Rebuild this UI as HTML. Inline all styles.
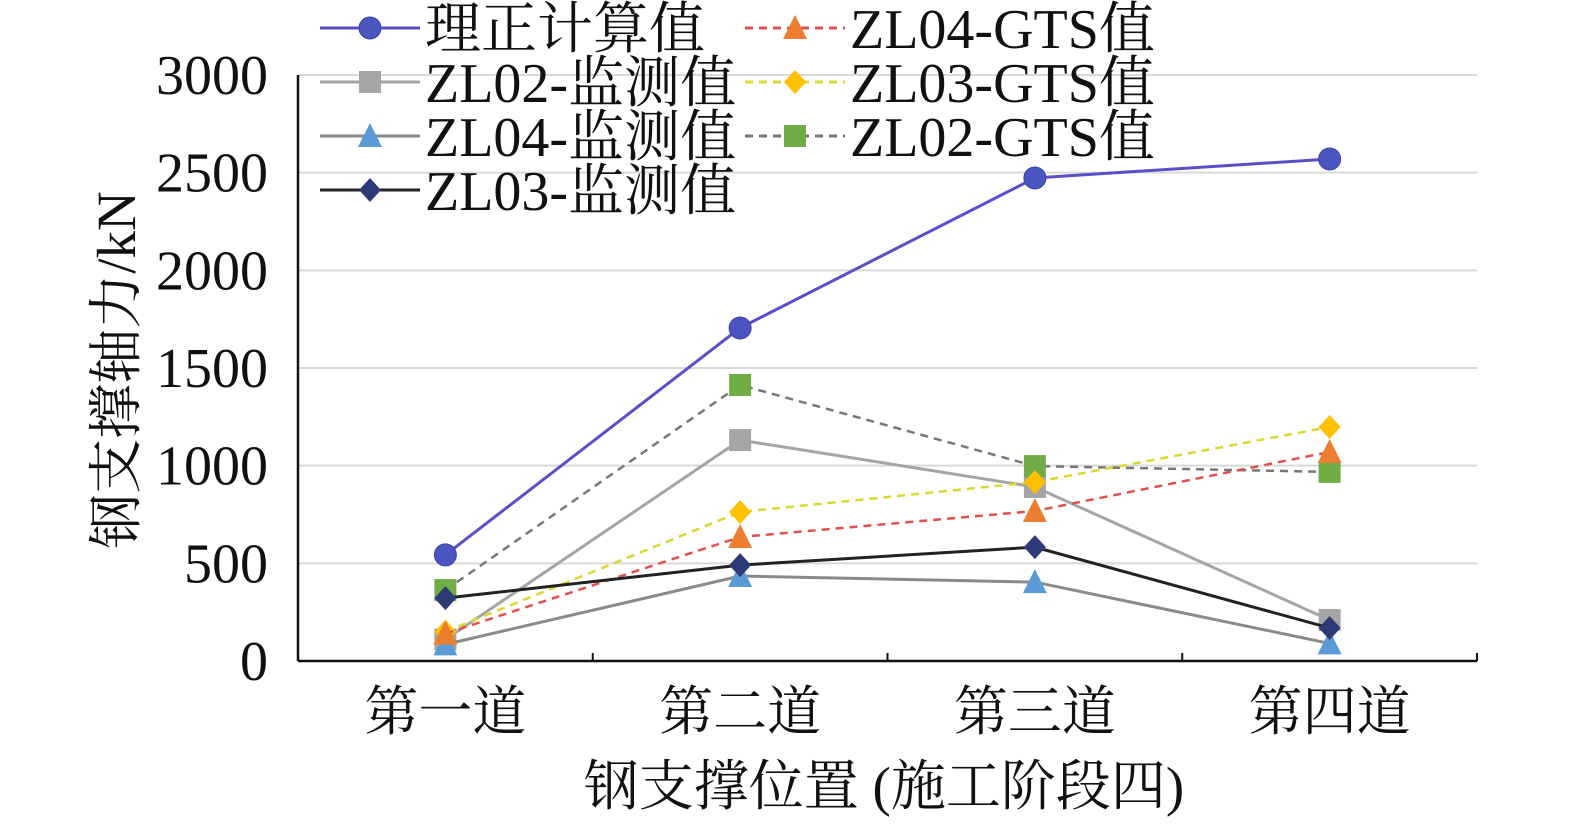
<!DOCTYPE html>
<html><head><meta charset="utf-8"><style>
body{margin:0;background:#fff}
svg text{font-family:"Liberation Serif","Noto Serif CJK SC",serif;fill:#111}
</style></head><body>
<svg id="c" width="1575" height="823"></svg>
<script>
const categories=["第一道","第二道","第三道","第四道"];
const yTicks=[0,500,1000,1500,2000,2500,3000];
const sLizheng=[543,1705,2473,2570];
const sZL02=[110,1131,891,210];
const sZL04=[85,435,404,90];
const sZL03=[322,491,583,169];
const sZL04G=[140,635,768,1070];
const sZL03G=[150,763,916,1198];
const sZL02G=[363,1413,998,968];
const series=[
 {name:"理正计算值",v:sLizheng,c:"#4a55c0",lc:"#5a4fc8",m:"circle",d:false,k:"lizheng"},
 {name:"ZL02-监测值",v:sZL02,c:"#a5a5a5",lc:"#a5a5a5",m:"square",d:false,k:"zl02-monitor"},
 {name:"ZL04-监测值",v:sZL04,c:"#5b9bd5",lc:"#8a8a8a",m:"tri",d:false,k:"zl04-monitor"},
 {name:"ZL03-监测值",v:sZL03,c:"#2e3a78",lc:"#222",m:"diamond",d:false,k:"zl03-monitor"},
 {name:"ZL04-GTS值",v:sZL04G,c:"#ed7d31",lc:"#e05050",m:"tri",d:true,k:"zl04-gts"},
 {name:"ZL03-GTS值",v:sZL03G,c:"#ffc000",lc:"#d8d830",m:"diamond",d:true,k:"zl03-gts"},
 {name:"ZL02-GTS值",v:sZL02G,c:"#70ad47",lc:"#777",m:"square",d:true,k:"zl02-gts"}
];
const NS="http://www.w3.org/2000/svg",svg=document.getElementById('c');
const X0=298,X1=1477,Y0=661,Y1=75;
const x=i=>X0+(X1-X0)/categories.length*(i+0.5);
const y=v=>Y0-(Y0-Y1)*v/3000;
function mk(t,a,p){const e=document.createElementNS(NS,t);for(const k in a)e.setAttribute(k,a[k]);(p||svg).appendChild(e);return e;}
yTicks.forEach(t=>{
 if(t>0){const g=mk('line',{x1:X0,x2:X1,y1:y(t),y2:y(t),stroke:'#d9d9d9','stroke-width':2});
 
 }
 const l=mk('text',{x:268,y:y(t)+19,'text-anchor':'end','font-size':56});l.textContent=t;
 
 
});
const ax=mk('line',{x1:X0,x2:X1,y1:Y0,y2:Y0,stroke:'#111','stroke-width':2.5});


const ay=mk('line',{x1:X0,x2:X0,y1:Y1,y2:Y0,stroke:'#111','stroke-width':2.5});


for(let i=0;i<=categories.length;i++){mk('line',{x1:X0+(X1-X0)/4*i,x2:X0+(X1-X0)/4*i,y1:Y0,y2:Y0-8,stroke:'#111','stroke-width':2});}
categories.forEach((c,i)=>{const t=mk('text',{x:x(i),y:730,'text-anchor':'middle','font-size':54});t.textContent=c;
 
 });
const xt=mk('text',{x:884,y:805,'text-anchor':'middle','font-size':55});xt.textContent="钢支撑位置 (施工阶段四)";


const yt=mk('text',{x:0,y:0,'text-anchor':'middle','font-size':55,transform:'translate(135,370) rotate(-90)'});yt.textContent="钢支撑轴力/kN";


function marker(m,cx,cy,c,p){
 const s=11;
 if(m==='circle')return mk('circle',{cx,cy,r:s,fill:c,stroke:'#3a44a0','stroke-width':1},p);
 if(m==='square')return mk('rect',{x:cx-s,y:cy-s,width:2*s,height:2*s,fill:c},p);
 if(m==='tri')return mk('polygon',{points:`${cx},${cy-s-2} ${cx+s+1},${cy+s} ${cx-s-1},${cy+s}`,fill:c},p);
 return mk('polygon',{points:`${cx},${cy-s-1} ${cx+s},${cy} ${cx},${cy+s+1} ${cx-s},${cy}`,fill:c},p);
}
const order=[1,2,6,5,4,3,0];
order.forEach(si=>{const s=series[si];
 const g=mk('g',{});
 
 
 mk('polyline',{points:s.v.map((v,i)=>x(i)+','+y(v)).join(' '),fill:'none',stroke:s.lc,'stroke-width':s.d?2.5:3,'stroke-dasharray':s.d?'8,6':'none'},g);
 s.v.forEach((v,i)=>{const m=marker(s.m,x(i),y(v),s.c,g);
  
  });
});
const leg=mk('g',{});


series.forEach((s,i)=>{
 const col=i<4?0:1,row=i<4?i:i-4;
 const lx=col?745:320,ly=28+row*54;
 const e=mk('g',{},leg);
 
 
 mk('line',{x1:lx,x2:lx+100,y1:ly,y2:ly,stroke:s.lc,'stroke-width':3,'stroke-dasharray':s.d?'8,6':'none'},e);
 marker(s.m,lx+50,ly,s.c,e);
 const t=mk('text',{x:lx+105,y:ly+20,'font-size':56},e);t.textContent=s.name;
});
</script>
</body></html>
